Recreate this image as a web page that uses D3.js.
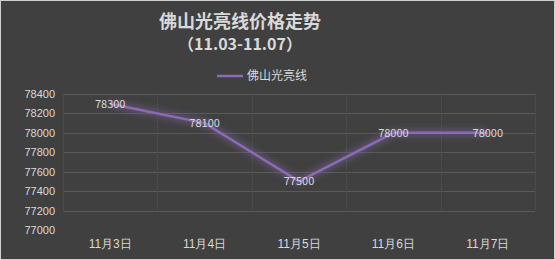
<!DOCTYPE html>
<html>
<head>
<meta charset="utf-8">
<script src="https://cdn.jsdelivr.net/npm/d3@7"></script>
<style>
  body { margin: 0; background: #404040; }
  svg { display: block; font-family: "Noto Sans CJK SC", "Microsoft YaHei", sans-serif; }
</style>
</head>
<body>
<svg id="chart"></svg>
<script>
// chart data
const dates = ["11月3日", "11月4日", "11月5日", "11月6日", "11月7日"];
const prices = [78300, 78100, 77500, 78000, 78000];
const yTicks = [77000, 77200, 77400, 77600, 77800, 78000, 78200, 78400];
const seriesName = "佛山光亮线";
const titleLines = ["佛山光亮线价格走势", "（11.03-11.07）"];

const width = 555, height = 260;
const margin = { top: 94, right: 20, bottom: 30, left: 63 };
const plotRight = 535;
const gridBottom = 210;

const svg = d3.select("#chart")
    .attr("width", width)
    .attr("height", height);

svg.append("rect")
    .attr("x", 0.5).attr("y", 0.5)
    .attr("width", width - 1).attr("height", height - 1)
    .attr("fill", "#404040")
    .attr("stroke", "#d0d0d0");

const defs = svg.append("defs");
const glow = defs.append("filter").attr("id", "glow")
    .attr("x", "-20%").attr("y", "-50%").attr("width", "140%").attr("height", "200%");
glow.append("feGaussianBlur").attr("stdDeviation", 3);

const x = d3.scaleBand()
    .domain(dates)
    .range([margin.left, plotRight]);

const y = d3.scaleLinear()
    .domain([77000, 78400])
    .range([230, margin.top]);

// gridlines
svg.append("g")
    .selectAll("line")
    .data(yTicks.filter(d => d > 77000))
    .join("line")
    .attr("x1", margin.left).attr("x2", plotRight)
    .attr("y1", d => Math.round(y(d)) + 0.5)
    .attr("y2", d => Math.round(y(d)) + 0.5)
    .attr("stroke", "#5a5a5a");

svg.append("g")
    .selectAll("line")
    .data(dates.slice(1))
    .join("line")
    .attr("x1", d => Math.round(x(d)) + 0.5)
    .attr("x2", d => Math.round(x(d)) + 0.5)
    .attr("y1", margin.top).attr("y2", gridBottom)
    .attr("stroke", "#4a4a4a");

svg.append("line")
    .attr("x1", margin.left + 0.5).attr("x2", margin.left + 0.5)
    .attr("y1", margin.top).attr("y2", gridBottom)
    .attr("stroke", "#4a4a4a");
svg.append("line")
    .attr("x1", plotRight + 0.5).attr("x2", plotRight + 0.5)
    .attr("y1", margin.top).attr("y2", gridBottom)
    .attr("stroke", "#4a4a4a");

// y axis labels
const yAxis = svg.append("g")
    .attr("transform", `translate(${margin.left - 8},0)`)
    .call(d3.axisLeft(y).tickValues(yTicks).tickSize(0).tickPadding(0).tickFormat(d3.format("d")));
yAxis.select(".domain").remove();
yAxis.selectAll("text")
    .attr("fill", "#d9d9d9")
    .style("font-size", "11px");

// x axis labels
const xAxis = svg.append("g")
    .attr("transform", `translate(0,239)`)
    .call(d3.axisBottom(x).tickSize(0).tickPadding(0));
xAxis.select(".domain").remove();
xAxis.selectAll("text")
    .attr("fill", "#d9d9d9")
    .style("font-size", "12px");

// series line
const line = d3.line()
    .x((d, i) => x(dates[i]) + x.bandwidth() / 2)
    .y(d => y(d));

svg.append("path")
    .datum(prices)
    .attr("fill", "none")
    .attr("stroke", "#8064a2")
    .attr("stroke-opacity", 0.5)
    .attr("stroke-width", 7)
    .attr("filter", "url(#glow)")
    .attr("d", line);

svg.append("path")
    .datum(prices)
    .attr("fill", "none")
    .attr("stroke", "#8a6cb4")
    .attr("stroke-width", 2.5)
    .attr("stroke-linejoin", "round")
    .attr("d", line);

// data labels
svg.append("g")
    .selectAll("text")
    .data(prices)
    .join("text")
    .attr("x", (d, i) => x(dates[i]) + x.bandwidth() / 2)
    .attr("y", d => y(d) + 4)
    .attr("text-anchor", "middle")
    .attr("fill", "#d9d9d9")
    .style("font-size", "11px")
    .text(d => d);

// title
svg.append("text")
    .attr("x", 240).attr("y", 28)
    .attr("text-anchor", "middle")
    .attr("fill", "#d9d9d9")
    .style("font-size", "18px")
    .style("font-weight", "bold")
    .text(titleLines[0]);

svg.append("text")
    .attr("x", 240).attr("y", 50)
    .attr("text-anchor", "middle")
    .attr("fill", "#d9d9d9")
    .style("font-size", "16px")
    .style("font-weight", "bold")
    .text(titleLines[1]);

// legend
svg.append("line")
    .attr("x1", 217).attr("x2", 243)
    .attr("y1", 76).attr("y2", 76)
    .attr("stroke", "#8a6cb4")
    .attr("stroke-width", 2.5);
svg.append("text")
    .attr("x", 247).attr("y", 80)
    .attr("fill", "#d9d9d9")
    .style("font-size", "12px")
    .text(seriesName);
</script>
</body>
</html>
